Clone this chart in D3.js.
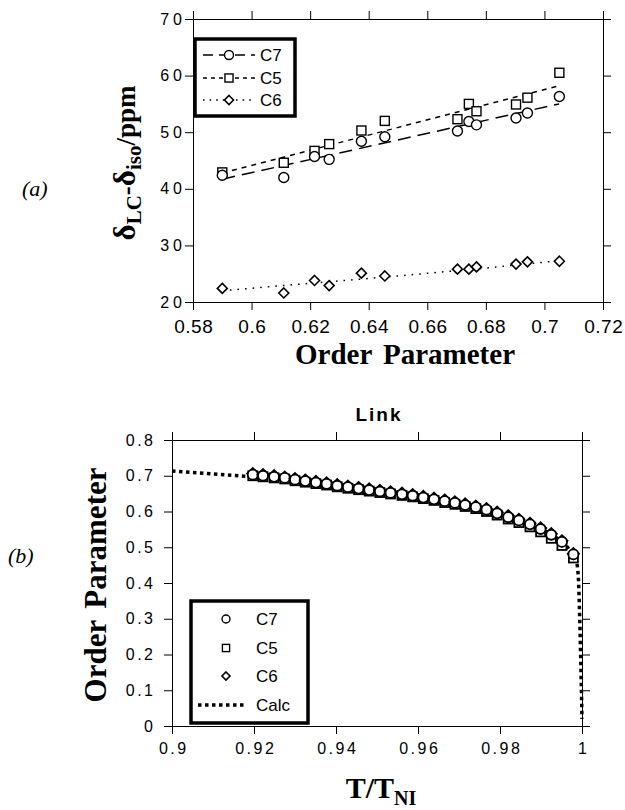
<!DOCTYPE html>
<html>
<head>
<meta charset="utf-8">
<script src="https://cdn.jsdelivr.net/npm/d3@7"></script>
<style>
  body { margin: 0; background: #fff; }
  svg { display: block; }
  .tick text { font-family: "Liberation Sans", Arial, sans-serif; fill: #000; }
  .domain, .tick line { stroke: #000; stroke-width: 1; }
</style>
</head>
<body>
<svg id="chart" width="625" height="810"></svg>
<script>
// ---- data, panel (a) ----
const orderA = [0.590, 0.611, 0.6215, 0.6265, 0.6375, 0.6455, 0.6703, 0.6742, 0.6768, 0.6903, 0.6942, 0.7051];
const c7A = [42.4, 42.0, 45.7, 45.2, 48.4, 49.2, 50.2, 51.9, 51.3, 52.5, 53.4, 56.3];
const c5A = [42.9, 44.6, 46.7, 47.9, 50.3, 52.0, 52.3, 55.0, 53.7, 54.9, 56.1, 60.5];
const c6A = [22.4, 21.6, 23.8, 22.9, 25.1, 24.6, 25.8, 25.8, 26.2, 26.7, 27.1, 27.2];
const c7FitX = [0.590, 0.705];
const c7FitY = [41.7, 55.0];
const c5FitX = [0.590, 0.705];
const c5FitY = [42.8, 58.2];
const c6FitX = [0.590, 0.620, 0.650, 0.680, 0.705];
const c6FitY = [22.0, 23.3, 24.6, 26.0, 27.3];
const xTicksA = [0.58, 0.6, 0.62, 0.64, 0.66, 0.68, 0.7, 0.72];
const yTicksA = [20, 30, 40, 50, 60, 70];

// ---- data, panel (b) ----
const tB = [0.9197, 0.9222, 0.9249, 0.9275, 0.9300, 0.9325, 0.9351, 0.9377, 0.9403, 0.9429,
            0.9455, 0.9481, 0.9507, 0.9533, 0.9561, 0.9587, 0.9613, 0.9639, 0.9665, 0.9690,
            0.9715, 0.9741, 0.9767, 0.9793, 0.9820, 0.9846, 0.9873, 0.9899, 0.9925, 0.9951, 0.9979];
const c7B = [0.703, 0.700, 0.697, 0.694, 0.689, 0.685, 0.681, 0.677, 0.672, 0.668,
             0.664, 0.660, 0.656, 0.652, 0.648, 0.644, 0.639, 0.634, 0.629, 0.624,
             0.618, 0.612, 0.605, 0.595, 0.584, 0.575, 0.564, 0.551, 0.535, 0.515, 0.480];
const c5B = [0.700, 0.697, 0.694, 0.691, 0.686, 0.682, 0.678, 0.674, 0.669, 0.665,
             0.661, 0.657, 0.653, 0.649, 0.645, 0.641, 0.636, 0.631, 0.625, 0.620,
             0.614, 0.608, 0.600, 0.590, 0.579, 0.569, 0.557, 0.543, 0.525, 0.505, 0.470];
const c6B = [0.706, 0.703, 0.700, 0.696, 0.692, 0.688, 0.684, 0.680, 0.675, 0.671,
             0.667, 0.663, 0.659, 0.655, 0.651, 0.647, 0.642, 0.637, 0.632, 0.627,
             0.621, 0.615, 0.608, 0.598, 0.588, 0.578, 0.567, 0.554, 0.538, 0.518, 0.482];
const calcT = [0.9, 0.905, 0.91, 0.915, 0.92, 0.93, 0.94, 0.95, 0.96, 0.97, 0.975, 0.98, 0.985,
               0.99, 0.993, 0.996, 0.998, 0.9988, 0.9991, 0.9993, 0.9995, 0.9997, 0.9999, 1.0];
const calcS = [0.713, 0.709, 0.705, 0.701, 0.697, 0.687, 0.675, 0.661, 0.644, 0.622, 0.609, 0.594, 0.575,
               0.551, 0.533, 0.507, 0.478, 0.455, 0.42, 0.36, 0.28, 0.18, 0.08, 0.02];
const xTicksB = [0.9, 0.92, 0.94, 0.96, 0.98, 1];
const yTicksB = [0, 0.1, 0.2, 0.3, 0.4, 0.5, 0.6, 0.7, 0.8];

const svg = d3.select("#chart");
const serif = '"Liberation Serif", "Times New Roman", serif';
const sans = '"Liberation Sans", Arial, sans-serif';

function marker(g, shape, x, y, size, sw) {
  sw = sw || 1.4;
  if (shape === "circle") {
    g.append("circle").attr("cx", x).attr("cy", y).attr("r", size / 2)
      .attr("fill", "#fff").attr("stroke", "#000").attr("stroke-width", sw);
  } else if (shape === "square") {
    const s = size * 0.9;
    g.append("rect").attr("x", x - s / 2).attr("y", y - s / 2).attr("width", s).attr("height", s)
      .attr("fill", "#fff").attr("stroke", "#000").attr("stroke-width", sw);
  } else {
    const h = size / 2;
    g.append("path")
      .attr("d", `M${x},${y - h}L${x + h},${y}L${x},${y + h}L${x - h},${y}Z`)
      .attr("fill", "#fff").attr("stroke", "#000").attr("stroke-width", sw + 0.2);
  }
}

// o = {xSize, xSpace, ySize, ySpace, yGap}
function frame(x, y, xTicks, yTicks, o) {
  const g = svg.append("g");
  const [x0, x1] = x.range();
  const [y0, y1] = y.range();
  g.append("g").attr("transform", `translate(0,${y0})`)
    .call(d3.axisBottom(x).tickValues(xTicks).tickFormat(d => String(d)).tickSize(8).tickSizeOuter(0))
    .call(a => a.selectAll("text").attr("font-size", o.xSize).attr("letter-spacing", o.xSpace)
      .attr("dx", o.xSpace / 2).attr("dy", "1.05em"));
  g.append("g").attr("transform", `translate(0,${y1})`)
    .call(d3.axisTop(x).tickValues(xTicks).tickFormat("").tickSize(8).tickSizeOuter(0));
  g.append("g").attr("transform", `translate(${x0},0)`)
    .call(d3.axisLeft(y).tickValues(yTicks).tickFormat(d => String(d)).tickSize(8).tickSizeOuter(0))
    .call(a => a.selectAll("text").attr("font-size", o.ySize).attr("letter-spacing", o.ySpace)
      .attr("x", -(o.yGap - o.ySpace)));
  g.append("g").attr("transform", `translate(${x1},0)`)
    .call(d3.axisRight(y).tickValues(yTicks).tickFormat("").tickSize(8).tickSizeOuter(0));
  return g;
}

// ================= panel (a) =================
const xA = d3.scaleLinear().domain([0.58, 0.72]).range([193, 603]);
const yA = d3.scaleLinear().domain([20, 70]).range([302, 19]);
frame(xA, yA, xTicksA, yTicksA, { xSize: 19, xSpace: 0.5, ySize: 16, ySpace: 4, yGap: 11 });

const lineA = d3.line().x(d => xA(d[0])).y(d => yA(d[1]));
const fitsA = [
  { xs: c7FitX, ys: c7FitY, dash: "13,7" },
  { xs: c5FitX, ys: c5FitY, dash: "5,5" },
  { xs: c6FitX, ys: c6FitY, dash: "1.6,6" }
];
fitsA.forEach(f => {
  svg.append("path")
    .attr("d", lineA(d3.zip(f.xs, f.ys)))
    .attr("fill", "none").attr("stroke", "#000").attr("stroke-width", 1.5)
    .attr("stroke-dasharray", f.dash);
});

const ptsA = svg.append("g");
orderA.forEach((o, i) => {
  marker(ptsA, "square", xA(o), yA(c5A[i]), 10);
  marker(ptsA, "circle", xA(o), yA(c7A[i]), 10);
  marker(ptsA, "diamond", xA(o), yA(c6A[i]), 10);
});

// legend (a)
const legA = svg.append("g");
legA.append("rect").attr("x", 195).attr("y", 39).attr("width", 100).attr("height", 77)
  .attr("fill", "#fff").attr("stroke", "#000").attr("stroke-width", 3.5);
const legAItems = [
  { name: "C7", shape: "circle", dash: "10,6", y: 55 },
  { name: "C5", shape: "square", dash: "4,4", y: 78 },
  { name: "C6", shape: "diamond", dash: "1.6,5", y: 100 }
];
legAItems.forEach(it => {
  legA.append("line").attr("x1", 203).attr("x2", 255).attr("y1", it.y).attr("y2", it.y)
    .attr("stroke", "#000").attr("stroke-width", 1.4).attr("stroke-dasharray", it.dash);
  marker(legA, it.shape, 229, it.y, 9);
  legA.append("text").attr("x", 260).attr("y", it.y + 6).attr("font-family", sans)
    .attr("font-size", 17).text(it.name);
});

// axis titles (a)
svg.append("text").attr("x", 405).attr("y", 364).attr("text-anchor", "middle")
  .attr("font-family", serif).attr("font-weight", "bold").attr("font-size", 29)
  .attr("word-spacing", 4).text("Order Parameter");

const yTitleA = svg.append("text")
  .attr("transform", "translate(135,163) rotate(-90)")
  .attr("text-anchor", "middle")
  .attr("font-family", serif).attr("font-weight", "bold").attr("font-size", 27);
yTitleA.append("tspan").attr("font-size", 31).text("δ");
yTitleA.append("tspan").attr("font-size", 21).attr("dy", 6).text("LC");
yTitleA.append("tspan").attr("dy", -6).text("-");
yTitleA.append("tspan").attr("font-size", 31).text("δ");
yTitleA.append("tspan").attr("font-size", 21).attr("dy", 6).text("iso");
yTitleA.append("tspan").attr("dy", -6).text("/ppm");

svg.append("text").attr("x", 22).attr("y", 196).attr("font-family", serif)
  .attr("font-style", "italic").attr("font-size", 22).text("(a)");

// ================= panel (b) =================
const xB = d3.scaleLinear().domain([0.9, 1.0]).range([172, 582]);
const yB = d3.scaleLinear().domain([0, 0.8]).range([726, 440]);
frame(xB, yB, xTicksB, yTicksB, { xSize: 16, xSpace: 2.5, ySize: 16, ySpace: 2.5, yGap: 19 });

svg.append("path")
  .attr("d", d3.line().x(d => xB(d[0])).y(d => yB(d[1]))(d3.zip(calcT, calcS)))
  .attr("fill", "none").attr("stroke", "#000").attr("stroke-width", 3.5)
  .attr("stroke-dasharray", "3.5,3.5");

const ptsB = svg.append("g");
tB.forEach((t, i) => {
  marker(ptsB, "square", xB(t), yB(c5B[i]), 10, 1.8);
  marker(ptsB, "diamond", xB(t), yB(c6B[i]), 11, 1.8);
  marker(ptsB, "circle", xB(t), yB(c7B[i]), 10, 1.8);
});

// legend (b)
const legB = svg.append("g");
legB.append("rect").attr("x", 191).attr("y", 601).attr("width", 117).attr("height", 122)
  .attr("fill", "#fff").attr("stroke", "#000").attr("stroke-width", 3.5);
const legBItems = [
  { name: "C7", shape: "circle", y: 619 },
  { name: "C5", shape: "square", y: 648 },
  { name: "C6", shape: "diamond", y: 676 }
];
legBItems.forEach(it => {
  marker(legB, it.shape, 226, it.y, 8);
  legB.append("text").attr("x", 256).attr("y", it.y + 6).attr("font-family", sans)
    .attr("font-size", 17).text(it.name);
});
legB.append("line").attr("x1", 198).attr("x2", 244).attr("y1", 705).attr("y2", 705)
  .attr("stroke", "#000").attr("stroke-width", 3.5).attr("stroke-dasharray", "3.5,3.5");
legB.append("text").attr("x", 256).attr("y", 711).attr("font-family", sans)
  .attr("font-size", 17).text("Calc");

// titles (b)
svg.append("text").attr("x", 379).attr("y", 421).attr("text-anchor", "middle")
  .attr("font-family", sans).attr("font-weight", "bold").attr("font-size", 19)
  .attr("letter-spacing", 2).text("Link");

const xTitleB = svg.append("text").attr("x", 381).attr("y", 798).attr("text-anchor", "middle")
  .attr("font-family", serif).attr("font-weight", "bold").attr("font-size", 30);
xTitleB.append("tspan").text("T/T");
xTitleB.append("tspan").attr("font-size", 20).attr("dy", 7).text("NI");

svg.append("text").attr("transform", "translate(106,585) rotate(-90)")
  .attr("text-anchor", "middle")
  .attr("font-family", serif).attr("font-weight", "bold").attr("font-size", 31)
  .attr("word-spacing", 4).text("Order Parameter");

svg.append("text").attr("x", 8).attr("y", 563).attr("font-family", serif)
  .attr("font-style", "italic").attr("font-size", 22).text("(b)");
</script>
</body>
</html>
